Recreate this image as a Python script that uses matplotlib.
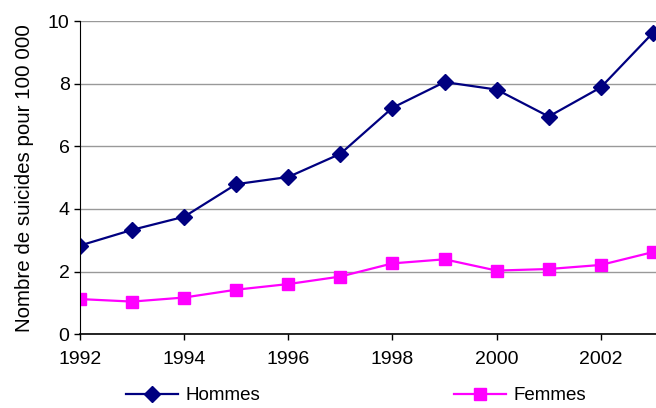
import matplotlib
matplotlib.use("Agg")
import matplotlib.pyplot as plt

plt.rcParams['font.family'] = ['Liberation Sans', 'DejaVu Sans']

years = [1992, 1993, 1994, 1995, 1996, 1997, 1998, 1999, 2000, 2001, 2002, 2003]
hommes = [2.83, 3.33, 3.75, 4.79, 5.02, 5.76, 7.23, 8.05, 7.81, 6.95, 7.88, 9.62]
femmes = [1.12, 1.04, 1.17, 1.42, 1.60, 1.84, 2.26, 2.39, 2.03, 2.08, 2.21, 2.62]
xticks = [1992, 1994, 1996, 1998, 2000, 2002]
yticks = [0, 2, 4, 6, 8, 10]

fig = plt.figure(figsize=(6.56, 4.08), dpi=100)
ax = fig.add_axes([0.122, 0.181, 0.878, 0.7675])

ax.plot(years, hommes, color='#000080', marker='D', markersize=8, linewidth=1.6,
        label='Hommes', clip_on=True)
ax.plot(years, femmes, color='#FF00FF', marker='s', markersize=8.5, linewidth=1.6,
        label='Femmes', clip_on=True)

ax.set_xlim(1992, 2003.06)
ax.set_ylim(0, 10)
ax.set_xticks(xticks)
ax.set_yticks(yticks)
ax.tick_params(axis='both', labelsize=14, direction='out', length=4, width=1, color='black')
ax.tick_params(axis='x', pad=8)
ax.yaxis.grid(True, color='#999999', linewidth=1)
ax.set_axisbelow(True)
for s in ['top', 'right']:
    ax.spines[s].set_visible(False)
ax.spines['left'].set_color('black')
ax.spines['bottom'].set_color('black')
ax.spines['bottom'].set_linewidth(1.2)

ax.set_ylabel('Nombre de suicides pour 100 000', fontsize=14.8, labelpad=10)

fig.legend(loc='center', bbox_to_anchor=(0.543, 0.03), ncol=2, frameon=False,
           fontsize=13.5, handlelength=2.8, handletextpad=0.4, columnspacing=10.3)

fig.savefig('out.png', dpi=100)
